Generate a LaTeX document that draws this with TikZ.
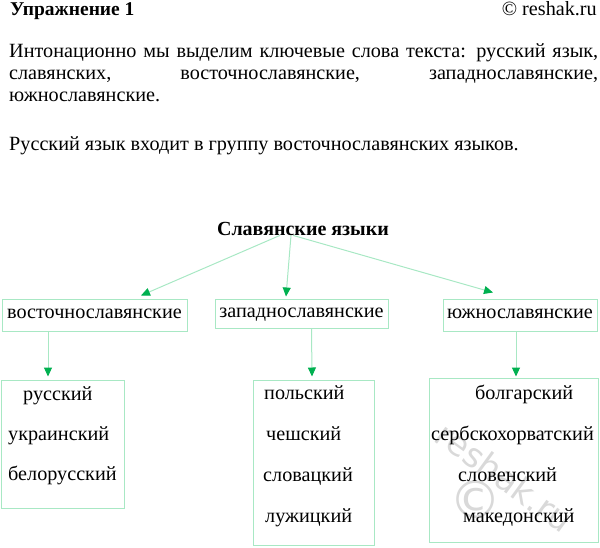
\documentclass[tikz,border=0pt]{standalone}
\usepackage{fontspec}
\setmainfont{Liberation Serif}
\setsansfont{DejaVu Sans}
\usetikzlibrary{arrows.meta}
\definecolor{boxgreen}{RGB}{168,232,196}
\definecolor{tipgreen}{RGB}{0,176,80}
\tikzset{
  txt/.style={inner sep=0pt, anchor=base west},
  langbox/.style={draw=boxgreen, line width=1pt, inner sep=0pt, text height=12pt, text depth=5pt},
  link/.style={draw=boxgreen, line width=1pt, -{Triangle[length=9pt,width=8pt,color=tipgreen]}}
}
\begin{document}
\begin{tikzpicture}[x=1pt, y=-1pt, font=\fontsize{20.2}{22}\selectfont]
\useasboundingbox (0,0) rectangle (600,547);
\node[rotate=-36, inner sep=0pt, text=gray!30, font=\fontsize{34}{34}\selectfont\sffamily] (wm) at (505,477) {reshak.ru};
\node[inner sep=0pt, text=gray!30, font=\fontsize{52}{52}\selectfont\sffamily] (wc) at (475,500) {©};

\node[txt, font=\fontsize{19.5}{22}\selectfont\bfseries] (ex) at (10,15) {Упражнение 1};
\node[txt, anchor=base east] (rs) at (597,15) {© reshak.ru};
\node[txt] (p1) at (9,57) {\makebox[589pt][s]{Интонационно мы выделим ключевые слова текста: русский язык,}};
\node[txt] (p2) at (9,79) {\makebox[589pt][s]{славянских, восточнославянские, западнославянские,}};
\node[txt] (p3) at (9,101) {южнославянские.};
\node[txt] (p4) at (9,150) {Русский язык входит в группу восточнославянских языков.};

\node[txt, anchor=base, font=\fontsize{20}{22}\selectfont\bfseries] (sl) at (303,235) {Славянские языки};
\node[langbox, minimum width=185pt, minimum height=32pt] (east) at (94.5,315) {восточнославянские};
\node[langbox, minimum width=173pt, minimum height=29pt] (west) at (301.5,313.5) {западнославянские};
\node[langbox, minimum width=154pt, minimum height=32pt] (south) at (520,315) {южнославянские};
\draw[link] ([xshift=-23pt]sl.south) -- ([xshift=46.5pt,yshift=3pt]east.north);
\draw[link] ([xshift=-12pt]sl.south) -- ([xshift=-15.5pt,yshift=2pt]west.north);
\draw[link] ([xshift=-10pt]sl.south) -- ([xshift=-27pt,yshift=6pt]south.north);

\node[langbox, minimum width=123pt, minimum height=128pt] (eastlist) at (62.5,444) {};
\node[langbox, minimum width=121pt, minimum height=165pt] (westlist) at (313.5,462.5) {};
\node[langbox, minimum width=169pt, minimum height=164pt] (southlist) at (513.5,460) {};
\draw[link] ([xshift=-46.5pt]east.south) -- ([xshift=-14.5pt,yshift=3pt]eastlist.north);
\draw[link] ([xshift=10pt]west.south) -- ([xshift=-1.5pt,yshift=3pt]westlist.north);
\draw[link] ([xshift=-4pt]south.south) -- ([xshift=2.5pt,yshift=1pt]southlist.north);

\node[txt] (ru) at (23,400) {русский};
\node[txt] (uk) at (8,440) {украинский};
\node[txt] (be) at (8,480) {белорусский};
\node[txt] (pl) at (264,399) {польский};
\node[txt] (cz) at (266,440) {чешский};
\node[txt] (sk) at (263,481) {словацкий};
\node[txt] (lu) at (265,522) {лужицкий};
\node[txt] (bg) at (475,399) {болгарский};
\node[txt] (sh) at (431,440) {сербскохорватский};
\node[txt] (sv) at (458,481) {словенский};
\node[txt] (mk) at (463,522) {македонский};
\end{tikzpicture}
\end{document}
